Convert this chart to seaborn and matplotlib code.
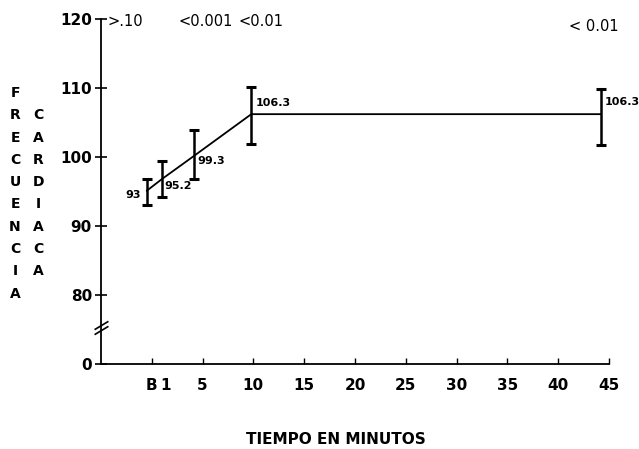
import matplotlib
matplotlib.use("Agg")
import matplotlib.pyplot as plt
import seaborn as sns
import numpy as np
import pandas as pd

# ---- data ----
minutes = [-0.5, 1.0, 4.2, 9.8, 44.2]
heart_rate = [95.1, 96.8, 100.2, 106.2, 106.2]
err_low = [93.0, 94.2, 96.8, 101.9, 101.7]
err_high = [96.8, 99.4, 103.9, 110.1, 109.9]
value_labels = ["93", "95.2", "99.3", "106.3", "106.3"]
p_labels = [">.10", "<0.001", "<0.01", "< 0.01"]
p_x = [-2.6, 5.3, 10.8, 43.5]

x_ticks = [0, 5, 10, 15, 20, 25, 30, 35, 40, 45]
x_ticklabels = ["B", "5", "10", "15", "20", "25", "30", "35", "40", "45"]
y_ticks = [70, 80, 90, 100, 110, 120]
y_ticklabels = ["0", "80", "90", "100", "110", "120"]

df = pd.DataFrame({"min": minutes, "fc": heart_rate})

sns.set_theme(style="white")
plt.rcParams["font.family"] = ["DejaVu Sans"]
plt.rcParams["text.color"] = "black"
plt.rcParams["xtick.color"] = "black"
plt.rcParams["ytick.color"] = "black"
plt.rcParams["axes.labelcolor"] = "black"

fig = plt.figure(figsize=(6.39, 4.49), dpi=100)
ax = fig.add_axes([0.158, 0.189, 0.953 - 0.158, 0.958 - 0.189])

sns.lineplot(data=df, x="min", y="fc", color="black", lw=1.3, ax=ax,
             legend=False, errorbar=None)
yerr = np.array([np.array(heart_rate) - np.array(err_low),
                 np.array(err_high) - np.array(heart_rate)])
ax.errorbar(minutes, heart_rate, yerr=yerr, fmt="none", ecolor="black",
            elinewidth=1.8, capsize=3.3, capthick=2.2)

# value labels
offsets = [(-6, -4, "right"), (2, -7, "left"), (3, -5, "left"),
           (4, 11, "left"), (4, 12, "left")]
for xv, yv, lab, (dx, dy, ha) in zip(minutes, heart_rate, value_labels, offsets):
    ax.annotate(lab, (xv, yv), xytext=(dx, dy), textcoords="offset pixels",
                ha=ha, va="center", fontsize=8, fontweight="bold", color="black")

# p-values at top
p_y = [119.6, 119.6, 119.6, 118.9]
for xv, yv, lab in zip(p_x, p_y, p_labels):
    ax.text(xv, yv, lab, ha="center", va="center", fontsize=10.5,
            color="black", clip_on=False)

ax.set_xlim(-5, 45)
ax.set_ylim(70, 120)
ax.set_xticks(x_ticks)
ax.set_xticklabels(x_ticklabels, fontsize=11, fontweight="bold")
ax.set_xticks([1.4], minor=True)
ax.set_xticklabels(["1"], minor=True, fontsize=11, fontweight="bold")
ax.set_yticks(y_ticks)
ax.set_yticklabels(y_ticklabels, fontsize=11, fontweight="bold")

ax.tick_params(axis="x", which="major", direction="in", length=4, width=1,
               pad=10, colors="black", bottom=True)
ax.tick_params(axis="x", which="minor", direction="in", length=0,
               pad=10, colors="black", bottom=True)
ax.tick_params(axis="y", direction="inout", length=9, width=1.2, pad=2,
               colors="black", left=True)

for side in ["top", "right"]:
    ax.spines[side].set_visible(False)
for side in ["left", "bottom"]:
    ax.spines[side].set_color("black")
    ax.spines[side].set_linewidth(1.3)

# axis break marks
ax.plot([-5, -5], [75.0, 75.7], linestyle="none", marker=[(-1, -0.6), (1, 0.6)],
        markersize=10, markeredgewidth=1.2, color="black", clip_on=False)

ax.set_xlabel("")
ax.set_ylabel("")
fig.text(336 / 639, 1 - 439 / 449, "TIEMPO EN MINUTOS", ha="center",
         va="center", fontsize=11, fontweight="bold")

# vertical stacked y label
col1 = "FRECUENCIA"
col2 = "CARDIACA"
step = 22.3
for i, ch in enumerate(col1):
    fig.text(15 / 639, 1 - (93 + i * step) / 449, ch, ha="center", va="center",
             fontsize=10, fontweight="bold")
for i, ch in enumerate(col2):
    fig.text(38 / 639, 1 - (93 + (i + 1) * step) / 449, ch, ha="center",
             va="center", fontsize=10, fontweight="bold")

fig.savefig("out.png", dpi=100, facecolor="white")
